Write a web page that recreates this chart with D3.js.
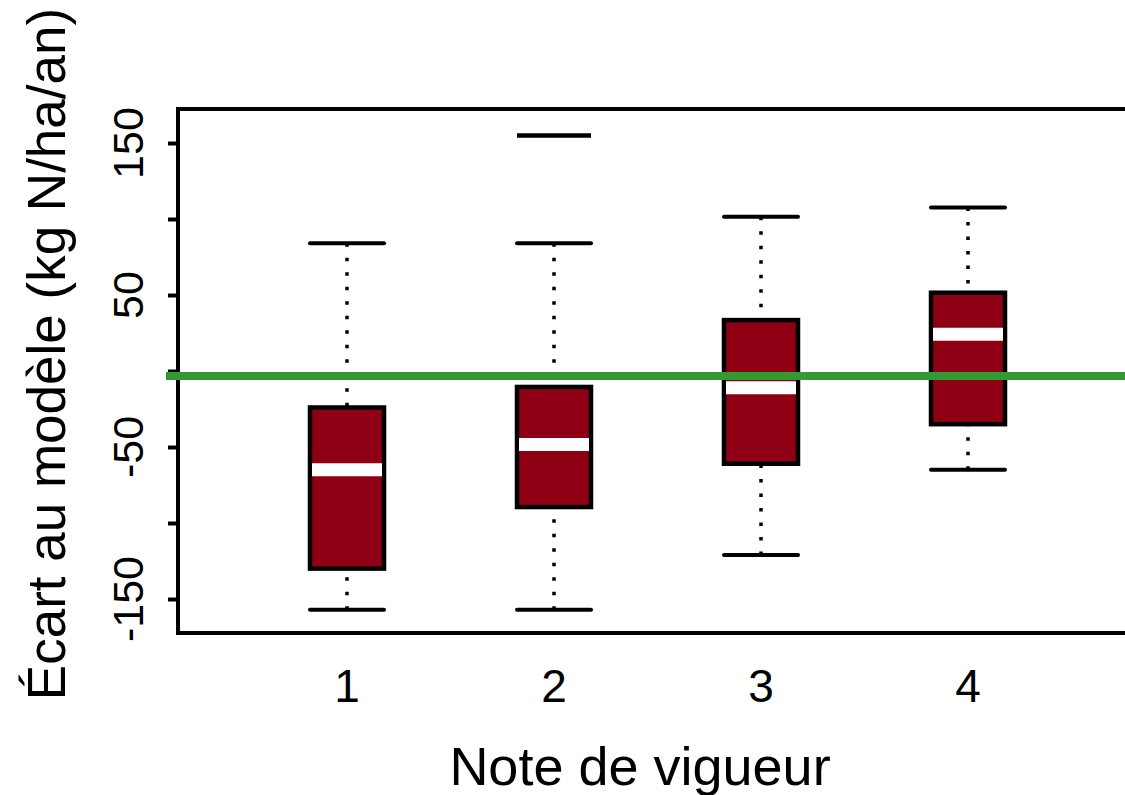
<!DOCTYPE html>
<html><head><meta charset="utf-8">
<script src="https://cdn.jsdelivr.net/npm/d3@7"></script>
<style>html,body{margin:0;padding:0;background:#fff;}svg{display:block;}</style>
</head><body>
<svg id="c" width="1125" height="795"></svg>
<script>
const categories = [1, 2, 3, 4];
const whiskerLow = [-157, -157, -121, -65];
const q1 = [-130, -89.5, -61, -35];
const median = [-65, -48.4, -11, 24.2];
const q3 = [-24, -10.5, 33.5, 51.5];
const whiskerHigh = [84, 84, 101.5, 107.5];
const outliers = [[], [155], [], []];
const yTicks = [-150, -100, -50, 0, 50, 100, 150];
const yTickLabels = ["-150", "", "-50", "", "50", "", "150"];
const referenceLine = -3.3;

const svg = d3.select("#c");
const font = "'Liberation Sans', Arial, Helvetica, sans-serif";
const x = d3.scaleLinear().domain([1, 4]).range([347, 968]);
const y = d3.scaleLinear().domain([-150, 150]).range([599, 143]);

const boxW = 74, medW = 70, capW = 74;
const fill = "#8f0014";

// frame lines
svg.append("line").attr("x1", 178).attr("x2", 1125).attr("y1", 109).attr("y2", 109)
  .attr("stroke", "#000").attr("stroke-width", 4);
svg.append("line").attr("x1", 178).attr("x2", 1125).attr("y1", 633).attr("y2", 633)
  .attr("stroke", "#000").attr("stroke-width", 4);

// y axis
const yAxis = d3.axisLeft(y).tickValues(yTicks).tickSize(10).tickFormat(() => "");
const ga = svg.append("g").attr("transform", "translate(178,0)").call(yAxis);
ga.select(".domain").attr("d", "M0,107V635").attr("stroke", "#000").attr("stroke-width", 4);
ga.selectAll(".tick line").attr("stroke", "#000").attr("stroke-width", 4);

svg.append("g").selectAll("text").data(yTicks.map((v, i) => ({v, l: yTickLabels[i]})).filter(d => d.l))
  .join("text")
  .attr("transform", d => `translate(143,${y(d.v)}) rotate(-90)`)
  .attr("text-anchor", "middle")
  .attr("font-family", font).attr("font-size", 43).attr("fill", "#000")
  .text(d => d.l);

// x tick labels
svg.append("g").selectAll("text").data(categories).join("text")
  .attr("x", d => x(d)).attr("y", 702)
  .attr("text-anchor", "middle")
  .attr("font-family", font).attr("font-size", 46).attr("fill", "#000")
  .text(d => d);

// boxes
const data = categories.map((c, i) => ({c, lo: whiskerLow[i], q1: q1[i], med: median[i], q3: q3[i], hi: whiskerHigh[i], out: outliers[i]}));
const g = svg.append("g");
const b = g.selectAll("g.box").data(data).join("g").attr("class", "box");

b.append("line").attr("x1", d => x(d.c)).attr("x2", d => x(d.c))
  .attr("y1", d => y(d.hi)).attr("y2", d => y(d.q3))
  .attr("stroke", "#000").attr("stroke-width", 3.5).attr("stroke-dasharray", "3.5,11");
b.append("line").attr("x1", d => x(d.c)).attr("x2", d => x(d.c))
  .attr("y1", d => y(d.lo)).attr("y2", d => y(d.q1))
  .attr("stroke", "#000").attr("stroke-width", 3.5).attr("stroke-dasharray", "3.5,11");
b.selectAll("line.cap").data(d => [{c: d.c, v: d.hi}, {c: d.c, v: d.lo}]).join("line")
  .attr("class", "cap")
  .attr("x1", d => x(d.c) - capW / 2).attr("x2", d => x(d.c) + capW / 2)
  .attr("y1", d => y(d.v)).attr("y2", d => y(d.v))
  .attr("stroke", "#000").attr("stroke-width", 4).attr("stroke-linecap", "round");
b.append("rect")
  .attr("x", d => x(d.c) - boxW / 2).attr("width", boxW)
  .attr("y", d => y(d.q3)).attr("height", d => y(d.q1) - y(d.q3))
  .attr("fill", fill).attr("stroke", "#000").attr("stroke-width", 4.5);
b.append("line")
  .attr("x1", d => x(d.c) - medW / 2).attr("x2", d => x(d.c) + medW / 2)
  .attr("y1", d => y(d.med)).attr("y2", d => y(d.med))
  .attr("stroke", "#fff").attr("stroke-width", 13);
b.selectAll("line.out").data(d => d.out.map(v => ({c: d.c, v}))).join("line")
  .attr("class", "out")
  .attr("x1", d => x(d.c) - 37).attr("x2", d => x(d.c) + 37)
  .attr("y1", d => y(d.v)).attr("y2", d => y(d.v))
  .attr("stroke", "#000").attr("stroke-width", 4.5);

// reference line
svg.append("line").attr("x1", 166).attr("x2", 1125)
  .attr("y1", y(referenceLine)).attr("y2", y(referenceLine))
  .attr("stroke", "#339933").attr("stroke-width", 8);

// axis titles
svg.append("text").attr("x", 640).attr("y", 785).attr("text-anchor", "middle")
  .attr("font-family", font).attr("font-size", 54).attr("fill", "#000")
  .text("Note de vigueur");
svg.append("text").attr("transform", "translate(65,354) rotate(-90)")
  .attr("text-anchor", "middle")
  .attr("font-family", font).attr("font-size", 53).attr("fill", "#000")
  .text("Écart au modèle (kg N/ha/an)");
</script>
</body></html>
